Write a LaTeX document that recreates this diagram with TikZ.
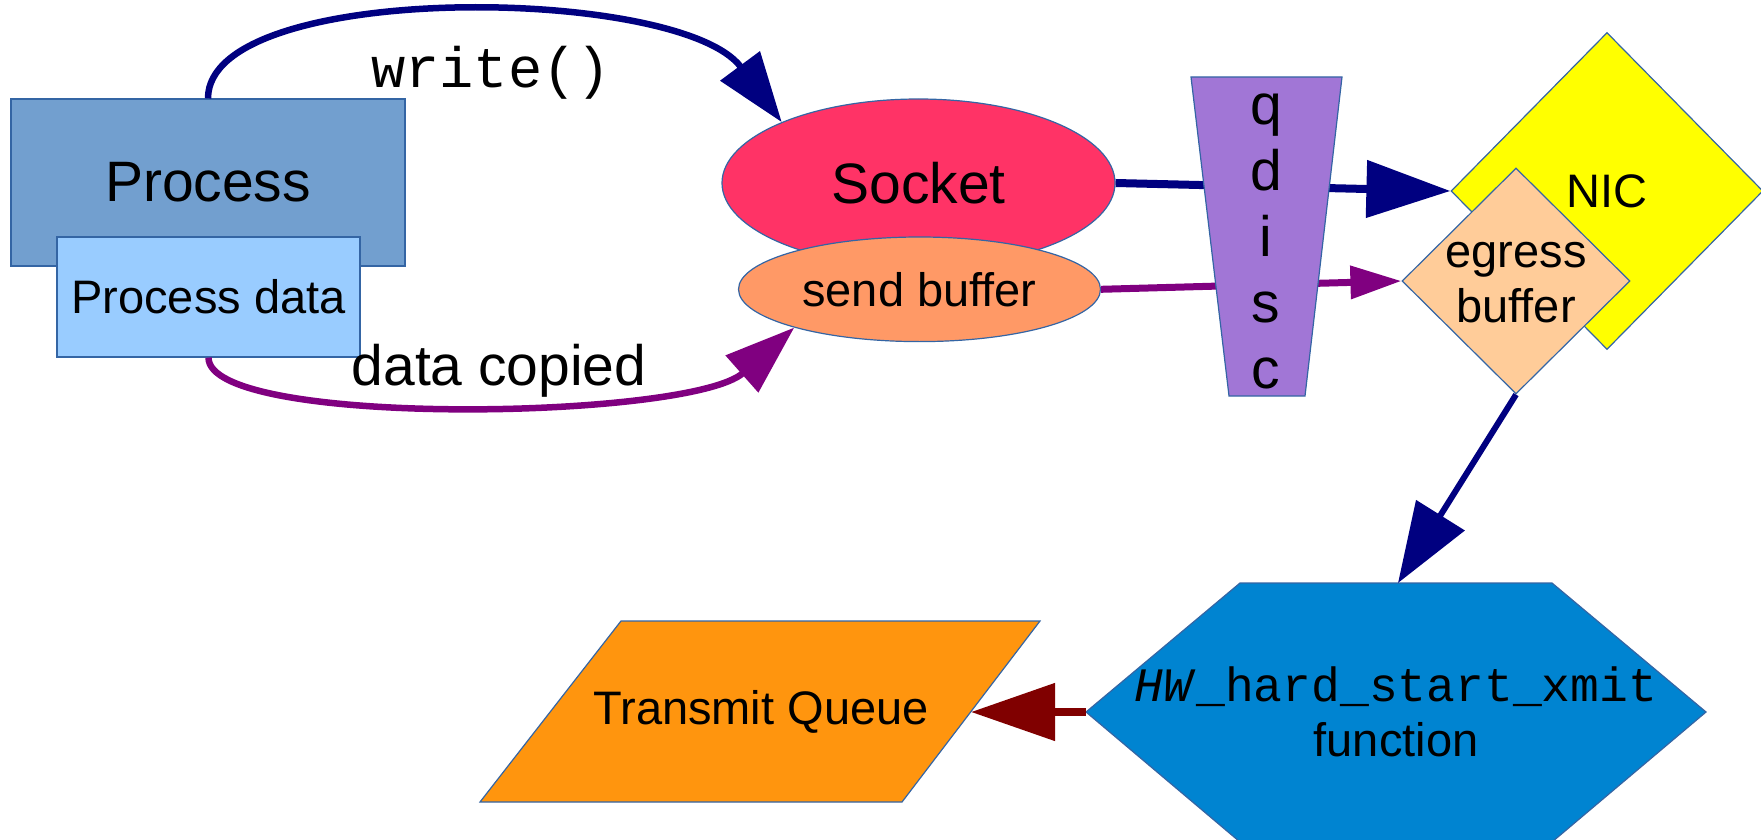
\documentclass[tikz,border=0pt]{standalone}
\usepackage{fontspec}
\setmainfont{Liberation Sans}
\setmonofont{Liberation Mono}
\usepackage{xcolor}
\usepackage{tikz}
\usetikzlibrary{shapes,arrows.meta,positioning,calc}

\definecolor{edgeblue}{HTML}{3465A4}
\definecolor{procblue}{HTML}{729FCF}
\definecolor{datablue}{HTML}{99CCFF}
\definecolor{sockred}{HTML}{FF3366}
\definecolor{bufpeach}{HTML}{FF9966}
\definecolor{qdiscviolet}{HTML}{A176D6}
\definecolor{nicyellow}{HTML}{FFFF00}
\definecolor{egresstan}{HTML}{FFCC99}
\definecolor{hwblue}{HTML}{0084D1}
\definecolor{queueorange}{HTML}{FF950E}
\definecolor{linknavy}{HTML}{000080}
\definecolor{linkpurple}{HTML}{800080}
\definecolor{linkmaroon}{HTML}{800000}

\begin{document}
\begin{tikzpicture}[
    x=0.5pt, y=-0.5pt,
    bigtext/.style={font=\fontsize{28.5}{33}\selectfont},
    smalltext/.style={font=\fontsize{23.5}{27.5}\selectfont},
    block/.style={rectangle, draw=edgeblue, line width=0.6pt, inner sep=0pt},
    blob/.style={ellipse, draw=edgeblue, line width=0.6pt, inner sep=0pt},
    gem/.style={diamond, draw=edgeblue, line width=0.6pt, inner sep=0pt},
    plate/.style={draw=edgeblue, line width=0.6pt},
    navyarrow/.style={draw=linknavy, line width=4pt, -{Triangle[length=42pt,width=28pt]}},
    purplearrow/.style={draw=linkpurple, line width=3.5pt, -{Triangle[length=25.5pt,width=16pt]}},
    callarrow/.style={line width=3.25pt, -{Triangle[length=35pt,width=24pt]}}
]
    \useasboundingbox (0,0) rectangle (1761,840);

    % Process and its data
    \node[block, fill=procblue, minimum width=197pt, minimum height=83.5pt, bigtext] (proc) at (208,182.5) {Process};
    \node[block, fill=datablue, minimum width=151.5pt, minimum height=60pt, smalltext] (procdata) at (208.5,297) {Process data};

    % Socket and send buffer
    \node[blob, fill=sockred, minimum width=196.5pt, minimum height=84pt, bigtext] (socket) at (918.5,183) {Socket};
    \node[blob, fill=bufpeach, minimum width=181pt, minimum height=52.3pt, smalltext] (sendbuf) at (919.5,289.3) {send buffer};

    % Calls from the process
    \draw[callarrow, draw=linknavy] (proc.north) .. controls (208,-20) and (680,-15) .. (socket.156);
    \draw[callarrow, draw=linkpurple] (procdata.south) .. controls (208,428) and (690,420) .. (sendbuf.197);
    \node[bigtext, font=\fontsize{28.5}{33}\selectfont\ttfamily, anchor=base] (writecall) at (491,88) {write()};
    \node[bigtext, anchor=base] (copied) at (499,385) {data copied};

    % NIC
    \node[gem, fill=nicyellow, minimum width=156pt, minimum height=158.5pt, smalltext] (nic) at (1607,191) {NIC};
    \node[gem, fill=egresstan, minimum width=114pt, minimum height=113pt] (egress) at (1516,281) {};
    \node[smalltext, align=center] (egresslabel) at (1516,283) {egress\\buffer};

    % Into the NIC, behind the qdisc
    \draw[navyarrow] (socket.east) -- (nic.west);
    \draw[purplearrow] (sendbuf.east) -- (egress.west);

    % qdisc
    \draw[plate, fill=qdiscviolet] (1191,77) coordinate (qdisc-nw) -- (1342,77) -- (1305,396) -- (1229,396) -- cycle;
    \foreach \ch [count=\i] in {q,d,i,s,c}
        \node[bigtext, anchor=base, inner sep=0pt] (qdisc\i) at (1266,59.25+65.75*\i) {\ch};

    % Driver transmit function
    \draw[plate, fill=hwblue] (1240,583) -- (1552,583) -- (1706,712) -- (1552,842) -- (1240,842) -- (1086,712) -- cycle;
    \coordinate (hwtop) at (1398,583);
    \coordinate (hwleft) at (1086,712);
    \node[smalltext, align=center] (hwfunc) at (1396,712)
        {{\fontsize{24}{29}\selectfont\ttfamily\textit{HW}\_hard\_start\_xmit}\\function};

    % Transmit queue
    \draw[plate, fill=queueorange] (621,621) -- (1040,621) -- (902,802) -- (480,802) -- cycle;
    \coordinate (tqright) at (971,712);
    \node[smalltext] (tq) at (761,712) {Transmit Queue};

    % Arrows
    \draw[navyarrow, line width=3pt, -{Triangle[length=40pt,width=28pt]}] (egress.south) -- (hwtop);
    \draw[draw=linkmaroon, line width=4pt, -{Triangle[length=42pt,width=28pt]}] (hwleft) -- (tqright);
\end{tikzpicture}
\end{document}
